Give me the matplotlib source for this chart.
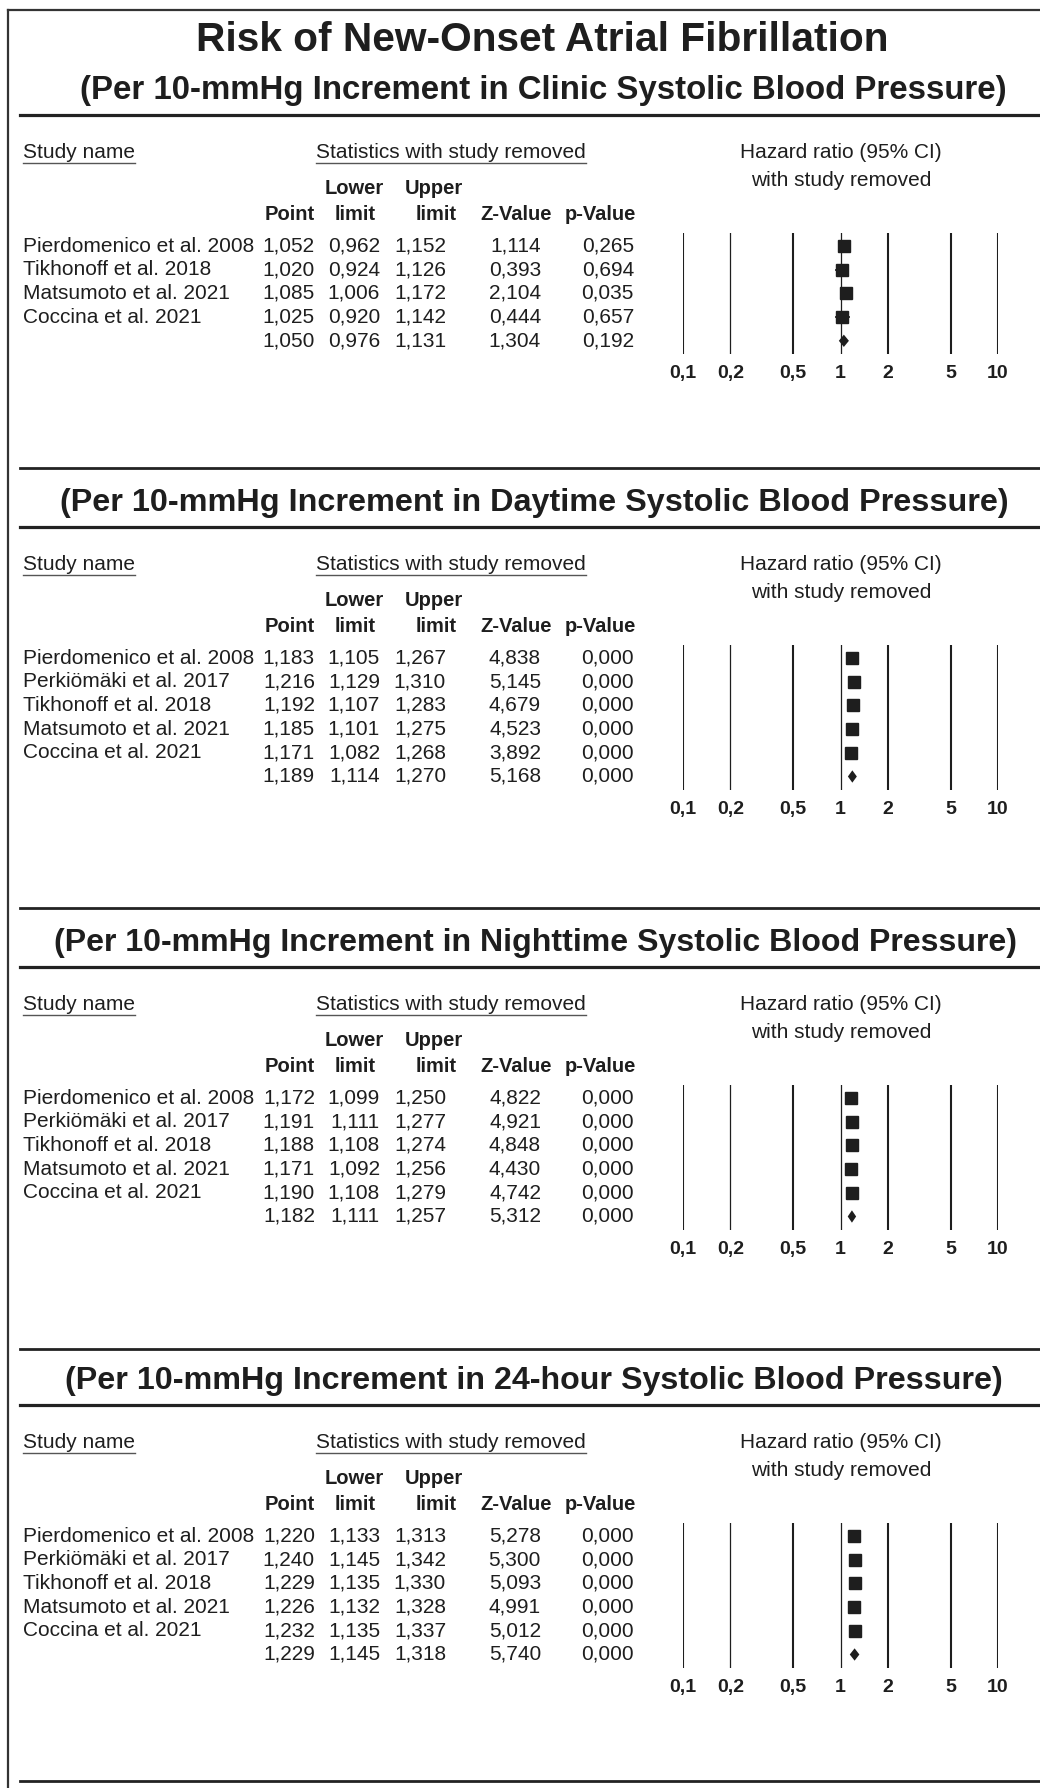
import matplotlib
matplotlib.use("Agg")
import matplotlib.pyplot as plt

plt.rcParams['font.family'] = ['Liberation Sans', 'DejaVu Sans']

# ---- data ----
main_title = "Risk of New-Onset Atrial Fibrillation"
panel_titles = [
    "(Per 10-mmHg Increment in Clinic Systolic Blood Pressure)",
    "(Per 10-mmHg Increment in Daytime Systolic Blood Pressure)",
    "(Per 10-mmHg Increment in Nighttime Systolic Blood Pressure)",
    "(Per 10-mmHg Increment in 24-hour Systolic Blood Pressure)",
]

clinic_studies = ["Pierdomenico et al. 2008", "Tikhonoff et al. 2018",
                  "Matsumoto et al. 2021", "Coccina et al. 2021"]
ambu_studies = ["Pierdomenico et al. 2008", "Perkiömäki et al. 2017",
                "Tikhonoff et al. 2018", "Matsumoto et al. 2021",
                "Coccina et al. 2021"]

# last value of every list is the pooled estimate
clinic_point = [1.052, 1.020, 1.085, 1.025, 1.050]
clinic_lower = [0.962, 0.924, 1.006, 0.920, 0.976]
clinic_upper = [1.152, 1.126, 1.172, 1.142, 1.131]
clinic_z = [1.114, 0.393, 2.104, 0.444, 1.304]
clinic_p = [0.265, 0.694, 0.035, 0.657, 0.192]

day_point = [1.183, 1.216, 1.192, 1.185, 1.171, 1.189]
day_lower = [1.105, 1.129, 1.107, 1.101, 1.082, 1.114]
day_upper = [1.267, 1.310, 1.283, 1.275, 1.268, 1.270]
day_z = [4.838, 5.145, 4.679, 4.523, 3.892, 5.168]
day_p = [0.000, 0.000, 0.000, 0.000, 0.000, 0.000]

night_point = [1.172, 1.191, 1.188, 1.171, 1.190, 1.182]
night_lower = [1.099, 1.111, 1.108, 1.092, 1.108, 1.111]
night_upper = [1.250, 1.277, 1.274, 1.256, 1.279, 1.257]
night_z = [4.822, 4.921, 4.848, 4.430, 4.742, 5.312]
night_p = [0.000, 0.000, 0.000, 0.000, 0.000, 0.000]

h24_point = [1.220, 1.240, 1.229, 1.226, 1.232, 1.229]
h24_lower = [1.133, 1.145, 1.135, 1.132, 1.135, 1.145]
h24_upper = [1.313, 1.342, 1.330, 1.328, 1.337, 1.318]
h24_z = [5.278, 5.300, 5.093, 4.991, 5.012, 5.740]
h24_p = [0.000, 0.000, 0.000, 0.000, 0.000, 0.000]

hr_ticks = [0.1, 0.2, 0.5, 1, 2, 5, 10]
hr_tick_labels = ["0,1", "0,2", "0,5", "1", "2", "5", "10"]

panels = [
    (clinic_studies, clinic_point, clinic_lower, clinic_upper, clinic_z, clinic_p),
    (ambu_studies, day_point, day_lower, day_upper, day_z, day_p),
    (ambu_studies, night_point, night_lower, night_upper, night_z, night_p),
    (ambu_studies, h24_point, h24_lower, h24_upper, h24_z, h24_p),
]

# ---- layout (pixels) ----
W, H = 1040, 1788
ink = "#1e1e1e"
rule_y = [115, 527, 967, 1405]      # thick rule under each panel title
sep_y = [468, 908, 1349, 1781]      # rule above each next panel / bottom
sub_x = [543, 534, 535, 534]        # centre of each panel title
sub_w = [931, 949, 967, 939]        # width of each panel title
row_step = 23.7

fig = plt.figure(figsize=(W / 100, H / 100), dpi=100)
bg = fig.add_axes([0, 0, 1, 1])
bg.set_xlim(0, W)
bg.set_ylim(H, 0)
bg.axis('off')
renderer = fig.canvas.get_renderer()


def fmt(v):
    return f"{v:.3f}".replace('.', ',')


def underline(t, y):
    bb = t.get_window_extent(renderer)
    bg.plot([bb.x0, bb.x1], [y, y], color="#555555", lw=1.0)


def fit_width(t, width):
    w = t.get_window_extent(renderer).width
    t.set_fontsize(t.get_fontsize() * width / w)


# frame
bg.plot([8, 8], [10, H], color="#333333", lw=1.6)
bg.plot([8, W], [10, 10], color="#333333", lw=1.6)

t = bg.text(542, 40, main_title, ha='center', va='center', fontsize=29,
            fontweight='bold', color=ink)
fit_width(t, 691)

for k, (studies, point, lower, upper, zval, pval) in enumerate(panels):
    L = rule_y[k]
    t = bg.text(sub_x[k], L - 24, panel_titles[k], ha='center', va='center',
                fontsize=24, fontweight='bold', color=ink)
    fit_width(t, sub_w[k])
    bg.plot([20, W], [L, L], color="#222222", lw=2.3)
    bg.plot([20, W], [sep_y[k], sep_y[k]], color="#222222", lw=2.0)

    t = bg.text(23, L + 37, "Study name", ha='left', va='center',
                fontsize=15, color=ink)
    underline(t, L + 48)
    t = bg.text(451, L + 37, "Statistics with study removed", ha='center',
                va='center', fontsize=15, color=ink)
    underline(t, L + 48)
    bg.text(841, L + 37, "Hazard ratio (95% CI)", ha='center', va='center',
            fontsize=15, color=ink)
    bg.text(841, L + 66, "with study removed", ha='center', va='center',
            fontsize=15, color=ink)

    hb = dict(va='center', fontsize=14.5, fontweight='bold', color=ink)
    bg.text(354, L + 73, "Lower", ha='center', **hb)
    bg.text(434, L + 73, "Upper", ha='center', **hb)
    bg.text(315, L + 99, "Point", ha='right', **hb)
    bg.text(355, L + 99, "limit", ha='center', **hb)
    bg.text(436, L + 99, "limit", ha='center', **hb)
    bg.text(552, L + 99, "Z-Value", ha='right', **hb)
    bg.text(636, L + 99, "p-Value", ha='right', **hb)

    n = len(point)
    names = studies + [""]
    y0 = L + 131
    for i in range(n):
        y = y0 + i * row_step
        rb = dict(va='center', fontsize=15, color=ink)
        bg.text(23, y, names[i], ha='left', **rb)
        bg.text(315, y, fmt(point[i]), ha='right', **rb)
        bg.text(380, y, fmt(lower[i]), ha='right', **rb)
        bg.text(446, y, fmt(upper[i]), ha='right', **rb)
        bg.text(541, y, fmt(zval[i]), ha='right', **rb)
        bg.text(634, y, fmt(pval[i]), ha='right', **rb)

    # forest plot
    top = y0 - 13
    bot = y0 + (n - 1) * row_step + 13
    x0, x1 = 683, 998
    ax = fig.add_axes([x0 / W, 1 - bot / H, (x1 - x0) / W, (bot - top) / H])
    ax.set_xscale('log')
    ax.set_xlim(0.1, 10)
    pad = 13 / row_step
    ax.set_ylim(n - 1 + pad, -pad)
    for tv in hr_ticks:
        lw = 0.9 if tv in (0.2, 1) else 1.5
        ax.axvline(tv, color=ink, lw=lw)
    ax.set_xticks(hr_ticks)
    ax.set_xticklabels(hr_tick_labels, fontsize=14, fontweight='bold',
                       color=ink)
    ax.xaxis.set_minor_locator(matplotlib.ticker.NullLocator())
    ax.tick_params(axis='x', length=0, pad=8)
    ax.set_yticks([])
    for s in ax.spines.values():
        s.set_visible(False)
    ax.patch.set_alpha(0)

    for i in range(n - 1):
        ax.hlines(i, lower[i], upper[i], color=ink, lw=1.2)
        ax.plot(point[i], i, 's', ms=8, color=ink, mec=ink)
    j = n - 1
    h = 0.26
    ax.fill([lower[j], point[j], upper[j], point[j]],
            [j, j - h, j, j + h], color=ink, lw=0)

fig.savefig("out.png", dpi=100)
